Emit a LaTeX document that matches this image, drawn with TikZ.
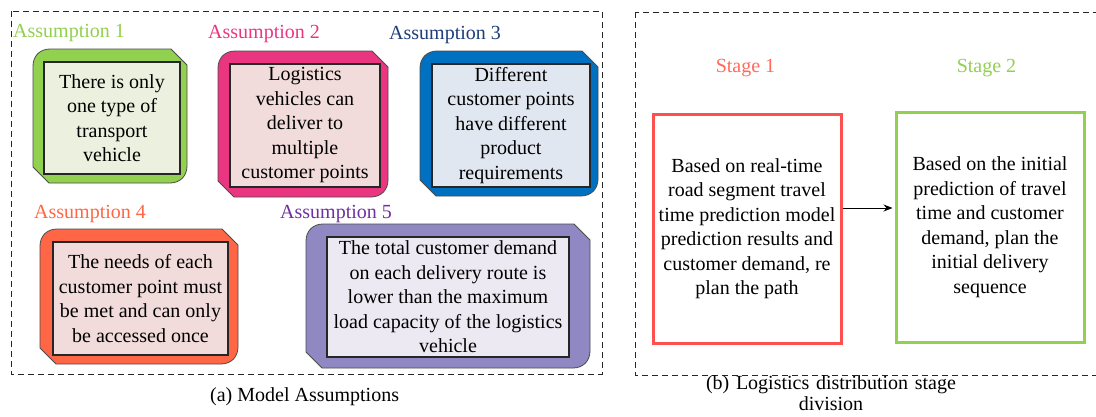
\documentclass[tikz,border=0pt]{standalone}
\usepackage{fontspec}
\setmainfont{Liberation Serif}
\usetikzlibrary{arrows.meta}

\definecolor{agreen}{HTML}{92D050}
\definecolor{apink}{HTML}{EA3680}
\definecolor{ablue}{HTML}{0070C0}
\definecolor{anavy}{HTML}{1F3D7A}
\definecolor{aorange}{HTML}{FF6645}
\definecolor{apurple}{HTML}{7030A0}
\definecolor{alilac}{HTML}{8F88C2}
\definecolor{fgreen}{HTML}{EBF1DE}
\definecolor{frose}{HTML}{F2DCDB}
\definecolor{fsky}{HTML}{E1E7F0}
\definecolor{flav}{HTML}{ECE9F2}
\definecolor{sred}{HTML}{FF5050}
\definecolor{slabel}{HTML}{FF6B5B}

% outer frame: rounded top-left and bottom-right, cut top-right and bottom-left
\newcommand\chipshape[5]{%
  \filldraw[fill=#5, draw=black!70, line width=0.8pt]
    (#1,#2+17) .. controls (#1,#2+7) and (#1+7,#2) .. (#1+17,#2)
    -- (#3-16,#2) -- (#3,#2+16) -- (#3,#4-17)
    .. controls (#3,#4-7) and (#3-7,#4) .. (#3-17,#4)
    -- (#1+16,#4) -- (#1,#4-16) -- cycle;}

\tikzset{
  txt/.style={font=\fontsize{20}{24.5}\selectfont},
  inbox/.style={txt, draw=black!85, line width=1.3pt, align=center, inner sep=1pt},
  alabel/.style={txt, anchor=base west, inner sep=0pt},
  frame/.style={draw=black!85, dashed, dash pattern=on 6pt off 4pt, line width=0.9pt},
  stagebox/.style={txt, line width=3pt, align=center, inner sep=2pt,
    minimum width=188pt},
}

\begin{document}
\begin{tikzpicture}[x=1pt,y=-1pt]
\clip (0,0) rectangle (1096,416);
\fill[white] (0,0) rectangle (1096,416);

% dashed group frames
\draw[frame] (11,11) rectangle (602,374);
\draw[frame] (635,12) rectangle (1104,375);

% assumption titles
\node[alabel, text=agreen]  (t1) at (13,37)  {Assumption 1};
\node[alabel, text=apink]   (t2) at (208,38) {Assumption 2};
\node[alabel, text=anavy]   (t3) at (389,39) {Assumption 3};
\node[alabel, text=aorange] (t4) at (34,218) {Assumption 4};
\node[alabel, text=apurple] (t5) at (280,218) {Assumption 5};

% coloured frames
\chipshape{33}{49}{187}{183}{agreen}
\chipshape{218}{51}{388}{197}{apink}
\chipshape{420}{51}{598}{196}{ablue}
\chipshape{40}{229}{238}{364}{aorange}
\chipshape{306}{224}{590}{368}{alilac}

% assumption texts
\node[inbox, fill=fgreen, minimum width=136pt, minimum height=112pt] (a1) at (112,118)
  {There is only\\one type of\\transport\\vehicle};
\node[inbox, fill=frose, minimum width=150pt, minimum height=123pt] (a2) at (305,125.5)
  {Logistics\\vehicles can\\deliver to\\multiple\\customer points};
\node[inbox, fill=fsky, minimum width=158pt, minimum height=123pt] (a3) at (511,125.5)
  {Different\\customer points\\have different\\product\\requirements};
\node[inbox, fill=frose, minimum width=175pt, minimum height=113pt] (a4) at (140.5,298.5)
  {The needs of each\\customer point must\\be met and can only\\be accessed once};
\node[inbox, fill=flav, minimum width=242pt, minimum height=120pt] (a5) at (448,297)
  {The total customer demand\\on each delivery route is\\lower than the maximum\\load capacity of the logistics\\vehicle};

% stages
\node[txt, anchor=base, text=slabel, inner sep=0pt] (l1) at (745.5,72) {Stage 1};
\node[txt, anchor=base, text=agreen, inner sep=0pt] (l2) at (986.5,72) {Stage 2};

\node[stagebox, draw=sred, minimum height=229pt] (s1) at (747,228.5)
  {Based on real-time\\road segment travel\\time prediction model\\prediction results and\\customer demand, re\\plan the path};
\node[stagebox, draw=agreen, minimum height=230pt] (s2) at (990,227)
  {Based on the initial\\prediction of travel\\time and customer\\demand, plan the\\initial delivery\\sequence};

\coordinate (ar) at (0,208);
\draw[line width=0.9pt, -{Stealth[length=9pt,width=7pt]}, shorten >=2pt]
  (s1.east |- ar) -- (s2.west |- ar);

% captions
\node[txt, anchor=base west, inner sep=0pt] (ca) at (210,401) {(a) Model Assumptions};
\node[anchor=base, text width=300pt, align=center, inner sep=0pt,
  font=\fontsize{20}{21}\selectfont] (cb) at (831,389)
  {(b) Logistics distribution stage\\division};
\end{tikzpicture}
\end{document}
